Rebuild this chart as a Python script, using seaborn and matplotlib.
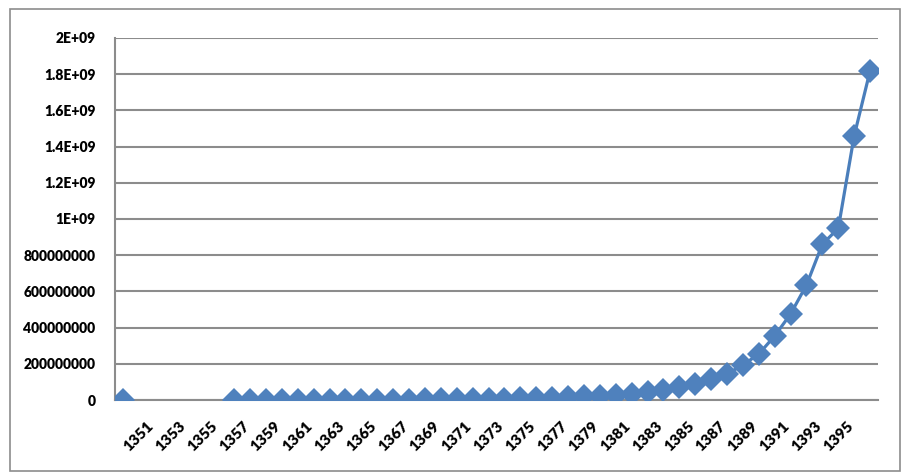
import numpy as np
import pandas as pd
import matplotlib
matplotlib.use("Agg")
import matplotlib.pyplot as plt
from matplotlib.patches import Rectangle
import seaborn as sns

# Years on the category axis (one slot per year)
years = list(range(1350, 1398))

# Series values (Rial); years with no record are None
values = [
    1.0e5, None, None, None, None, None, None,
    3.0e5, 4.0e5, 5.0e5, 6.0e5, 7.0e5, 8.0e5, 1.0e6,
    1.2e6, 1.5e6, 1.8e6, 2.0e6, 2.5e6, 3.0e6, 3.5e6,
    4.0e6, 5.0e6, 6.0e6, 7.0e6, 9.0e6, 1.1e7, 1.3e7,
    1.6e7, 2.0e7, 2.4e7, 2.8e7, 3.4e7, 4.4e7, 5.6e7,
    7.1e7, 9.1e7, 1.17e8, 1.44e8, 1.93e8, 2.54e8, 3.54e8,
    4.75e8, 6.35e8, 8.61e8, 9.48e8, 1.459e9, 1.818e9,
]

# Tick labels shown on the x axis (every other year)
xtick_labels = [str(y) for y in range(1351, 1396, 2)]

# Y axis ticks and their labels
ytick_values = [0, 2e8, 4e8, 6e8, 8e8, 1e9, 1.2e9, 1.4e9, 1.6e9, 1.8e9, 2e9]
ytick_labels = ["0", "200000000", "400000000", "600000000", "800000000",
                "1E+09", "1.2E+09", "1.4E+09", "1.6E+09", "1.8E+09", "2E+09"]

sns.set_theme(style="white")
plt.rcParams["font.family"] = ["Lato", "DejaVu Sans"]

df = pd.DataFrame({"year": years, "value": values})
df["pos"] = np.arange(len(df))
# separate runs so the line breaks where years are missing
df["run"] = df["value"].isna().cumsum()
df = df.dropna(subset=["value"])

fig = plt.figure(figsize=(9.03, 4.73), dpi=100)
ax = fig.add_axes([115 / 903, 73 / 473, 763 / 903, 362 / 473])

line_color = "#4A7EBB"
sns.lineplot(data=df, x="pos", y="value", units="run", estimator=None,
             color=line_color, linewidth=2.3, marker="D", markersize=12,
             markeredgewidth=0, markerfacecolor="#4F81BD", ax=ax,
             legend=False, zorder=3)

ax.set_xlim(-0.5, len(years) - 0.5)
ax.set_ylim(0, 2e9)

ax.set_yticks(ytick_values)
ax.set_yticklabels(ytick_labels, fontsize=10, fontweight="heavy", color="black")
xt_pos = [years.index(int(t)) for t in xtick_labels]
ax.set_xticks(xt_pos)
ax.set_xticklabels(xtick_labels, rotation=45, ha="center", fontsize=11,
                   fontweight="heavy", color="black")
ax.tick_params(axis="y", length=0, pad=14)
ax.tick_params(axis="x", length=0, pad=14)

ax.grid(axis="y", color="#8C8C8C", linewidth=1.5)
ax.grid(axis="x", visible=False)
ax.set_axisbelow(True)
ax.set_xlabel("")
ax.set_ylabel("")

for side in ["top", "right"]:
    ax.spines[side].set_visible(False)
for side in ["left", "bottom"]:
    ax.spines[side].set_color("#8C8C8C")
    ax.spines[side].set_linewidth(1.5)

# outer chart border
fig.patches.append(Rectangle((10 / 903, 2 / 473), 890 / 903, 462 / 473,
                             transform=fig.transFigure, fill=False,
                             edgecolor="#8C8C8C", linewidth=1.2))

fig.savefig("out.png", dpi=100)
